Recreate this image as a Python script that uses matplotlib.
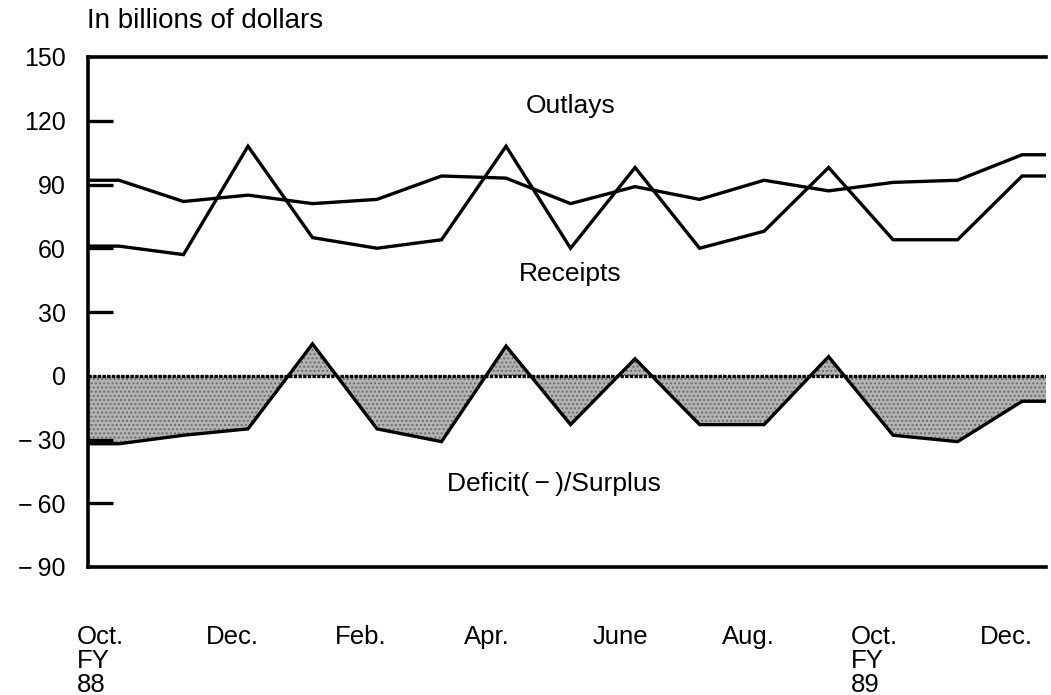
import matplotlib
matplotlib.use("Agg")
import matplotlib.pyplot as plt
import matplotlib.transforms as mtransforms
import numpy as np

plt.rcParams['font.family'] = ['Liberation Sans', 'DejaVu Sans']

# monthly values, Oct. FY88 through Dec. FY89 (billions of dollars)
months = ["Oct.", "Nov.", "Dec.", "Jan.", "Feb.", "Mar.", "Apr.", "May", "June",
          "July", "Aug.", "Sep.", "Oct.", "Nov.", "Dec."]
outlays = [92, 82, 85, 81, 83, 94, 93, 81, 89, 83, 92, 87, 91, 92, 104]
receipts = [61, 57, 108, 65, 60, 64, 108, 60, 98, 60, 68, 98, 64, 64, 94]
deficit = [-32, -28, -25, 15, -25, -31, 14, -23, 8, -23, -23, 9, -28, -31, -12]

tick_months = [0, 2, 4, 6, 8, 10, 12, 14]
tick_labels = ["Oct.\nFY\n88", "Dec.", "Feb.", "Apr.", "June", "Aug.", "Oct.\nFY\n89", "Dec."]
yticks = [150, 120, 90, 60, 30, 0, -30, -60, -90]
ylabels = ["150", "120", "90", "60", "30", "0", "\u2212\u200930", "\u2212\u200960", "\u2212\u200990"]

fig = plt.figure(figsize=(10.51, 6.95), dpi=100)
ax = fig.add_axes([88/1051, 1 - 567/695, (1046 - 88)/1051, (567 - 57)/695])

xmin, xmax = -0.48, 14.37
x = np.arange(len(months))
# lines run flat out to the frame on both sides
xe = np.concatenate([[xmin], x, [xmax]])
def ext(v):
    return np.concatenate([[v[0]], v, [v[-1]]])

out_e = ext(np.array(outlays, float))
rec_e = ext(np.array(receipts, float))
def_e = ext(np.array(deficit, float))

ax.fill_between(xe, 0, def_e, facecolor="#b4b4b4", edgecolor="#6a6a6a",
                hatch="....", linewidth=0, interpolate=True)
ax.axhline(0, color="black", lw=2.4, ls=(0, (1, 0.4)))
ax.plot(xe, def_e, color="black", lw=2.4, solid_joinstyle="miter")
ax.plot(xe, out_e, color="black", lw=2.4, solid_joinstyle="miter")
ax.plot(xe, rec_e, color="black", lw=2.4, solid_joinstyle="miter")

ax.set_xlim(xmin, xmax)
ax.set_ylim(-90, 150)

ax.set_yticks(yticks)
ax.set_yticklabels(ylabels, fontsize=18)
ax.tick_params(axis="y", direction="in", length=18, width=2.4, pad=16)
for t in ax.yaxis.get_major_ticks():
    if t.get_loc() in (150, 0, -90):
        t.tick1line.set_visible(False)

ax.set_xticks(tick_months)
ax.set_xticklabels(tick_labels, fontsize=18.5, ha="left", linespacing=0.98)
ax.tick_params(axis="x", length=0, pad=42)
offset = mtransforms.ScaledTranslation(-42/100, 0, fig.dpi_scale_trans)
for lab in ax.get_xticklabels():
    lab.set_transform(lab.get_transform() + offset)

for s in ["left", "top", "bottom"]:
    ax.spines[s].set_linewidth(2.6)
ax.spines["right"].set_visible(False)

ax.text(7, 127, "Outlays", fontsize=19, ha="center", va="center")
ax.text(7, 48, "Receipts", fontsize=19, ha="center", va="center")
ax.text(6.74, -51, "Deficit(\u2009\u2212\u2009)/Surplus", fontsize=19, ha="center", va="center")

fig.text(87/1051, 1 - 28/695, "In billions of dollars", fontsize=20, ha="left", va="baseline")

fig.savefig("out.png", dpi=100)
